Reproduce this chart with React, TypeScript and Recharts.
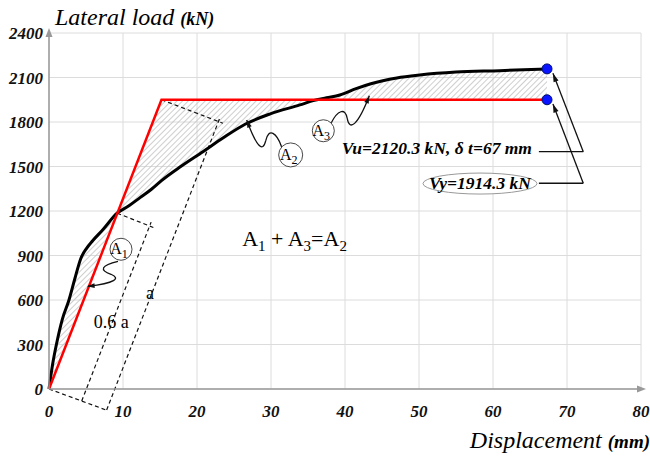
import React from "react"
import {
  ComposedChart,
  Line,
  Area,
  Scatter,
  XAxis,
  YAxis,
  CartesianGrid,
  ReferenceLine,
  ReferenceDot,
} from "recharts"

const SERIF = '"Liberation Serif", "Times New Roman", serif'

// axes
const xTicks = [0, 10, 20, 30, 40, 50, 60, 70, 80]
const yTicks = [0, 300, 600, 900, 1200, 1500, 1800, 2100, 2400]

// pushover (capacity) curve
const curveX = [0, 0.5, 1, 1.8, 2.7, 3.5, 4.3, 5.1, 5.9, 7.3, 9.2, 10.8, 12.3, 13.8, 15.2, 17.8, 20.8, 23.5, 26.5, 29.9, 33.9, 35.7, 37.5, 39.3, 41.5, 43.5, 47, 50.1, 55, 60.9, 67.3]
const curveY = [0, 170, 300, 470, 600, 745, 880, 950, 1000, 1075, 1185, 1235, 1290, 1345, 1405, 1500, 1600, 1692, 1785, 1855, 1915, 1944, 1963, 1982, 2025, 2058, 2097, 2117, 2137, 2146, 2158]

// idealised bilinear curve
const bilinearX = [0, 15.2, 67.3]
const bilinearY = [0, 1950, 1950]

// end points (Vu, Vy at target displacement)
const pointX = [67.3, 67.3]
const pointY = [2158, 1950]

const curveData = curveX.map((x, i) => ({ x, y: curveY[i] }))
const bilinearData = bilinearX.map((x, i) => ({ x, y: bilinearY[i] }))
const pointData = pointX.map((x, i) => ({ x, y: pointY[i] }))

function bilinearAt(x: number) {
  for (let i = 1; i < bilinearX.length; i++) {
    if (x <= bilinearX[i]) {
      const t = (x - bilinearX[i - 1]) / (bilinearX[i] - bilinearX[i - 1])
      return bilinearY[i - 1] + t * (bilinearY[i] - bilinearY[i - 1])
    }
  }
  return bilinearY[bilinearY.length - 1]
}

// hatched band between the two curves (A1, A2, A3)
const bandData = curveX.map((x, i) => ({ x, band: [bilinearAt(x), curveY[i]] }))

function head(x: number, y: number, fx: number, fy: number, size = 8) {
  const a = Math.atan2(y - fy, x - fx)
  const p1 = [x - size * Math.cos(a - 0.3), y - size * Math.sin(a - 0.3)]
  const p2 = [x - size * Math.cos(a + 0.3), y - size * Math.sin(a + 0.3)]
  return <path d={`M${x},${y} L${p1} L${p2} Z`} fill="#111" />
}

const ArrowLine = (p: any) => (
  <g>
    <line x1={p.x1} y1={p.y1} x2={p.x2} y2={p.y2} stroke="#111" strokeWidth={1.3} />
    {head(p.x2, p.y2, p.x1, p.y1, 9)}
  </g>
)

function circled(sub: string, r: number, d: string, tip: number[], from: number[]) {
  return (p: any) => (
    <g transform={`translate(${p.cx},${p.cy})`}>
      <path d={d} fill="none" stroke="#111" strokeWidth={1.3} />
      {head(tip[0], tip[1], from[0], from[1], 8)}
      <circle r={r} fill="#fff" stroke="#333" strokeWidth={0.9} />
      <text x={-2} y={5} textAnchor="middle" fontFamily={SERIF} fontSize={16} fill="#000">
        A<tspan fontSize={12} dy={4}>{sub}</tspan>
      </text>
    </g>
  )
}

function note(content: React.ReactNode, dx: number, dy: number, anchor = "start", size = 17, italic = true, bold = true) {
  return (p: any) => (
    <text
      x={p.cx + dx}
      y={p.cy + dy}
      textAnchor={anchor}
      fontFamily={SERIF}
      fontSize={size}
      fontStyle={italic ? "italic" : "normal"}
      fontWeight={bold ? 700 : 400}
      fill="#000"
    >
      {content}
    </text>
  )
}

const XTick = (p: any) => (
  <text x={p.x} y={p.y + 12} textAnchor="middle" fontFamily={SERIF} fontSize={17} fontStyle="italic" fontWeight={700} fill="#111">
    {p.payload.value}
  </text>
)

const YTick = (p: any) => (
  <text x={p.x} y={p.y + 6} textAnchor="end" fontFamily={SERIF} fontSize={17} fontStyle="italic" fontWeight={700} fill="#111">
    {p.payload.value}
  </text>
)

const dashed = { stroke: "#111", strokeWidth: 1.2, strokeDasharray: "4 3", ifOverflow: "visible" as const }

export default function App() {
  return (
    <div style={{ position: "absolute", left: 0, top: 0, width: 650, height: 460, background: "#fff" }}>
      <ComposedChart width={650} height={460} margin={{ top: 33, right: 9, bottom: 0, left: 0 }}>
        <defs>
          <pattern id="hatch" width="4" height="4" patternUnits="userSpaceOnUse" patternTransform="rotate(45)">
            <line x1="0" y1="0" x2="0" y2="4" stroke="#c2c2c2" strokeWidth="1.6" />
          </pattern>
        </defs>
        <CartesianGrid stroke="#dcdcdc" strokeWidth={1} />
        <XAxis
          type="number"
          dataKey="x"
          domain={[0, 80]}
          ticks={xTicks}
          height={71}
          tickLine={false}
          tickMargin={10}
          axisLine={{ stroke: "#999", strokeWidth: 1.5 }}
          tick={<XTick />}
        />
        <YAxis
          type="number"
          dataKey="y"
          domain={[0, 2400]}
          ticks={yTicks}
          width={49}
          tickLine={false}
          tickMargin={0}
          axisLine={{ stroke: "#999", strokeWidth: 1.5 }}
          tick={<YTick />}
        />

        <Area data={bandData} dataKey="band" type="linear" stroke="none" fill="url(#hatch)" fillOpacity={1} isAnimationActive={false} />

        {/* construction lines */}
        <ReferenceLine segment={[{ x: 0, y: 0 }, { x: 7.9, y: -145 }]} {...dashed} />
        <ReferenceLine segment={[{ x: 7.79, y: -141.6 }, { x: 23.1, y: 1829 }]} {...dashed} />
        <ReferenceLine segment={[{ x: 15.2, y: 1950 }, { x: 23.5, y: 1792 }]} {...dashed} />
        <ReferenceLine segment={[{ x: 4.42, y: -81 }, { x: 13.8, y: 1125 }]} {...dashed} />
        <ReferenceLine segment={[{ x: 9.23, y: 1185 }, { x: 14.1, y: 1089 }]} {...dashed} />

        <Line data={curveData} dataKey="y" type="monotone" stroke="#000" strokeWidth={3} dot={false} activeDot={false} isAnimationActive={false} />
        <Line data={bilinearData} dataKey="y" type="linear" stroke="#f00" strokeWidth={2.5} dot={false} activeDot={false} isAnimationActive={false} />

        {/* leaders to the end points */}
        <ReferenceLine segment={[{ x: 66.2, y: 1600 }, { x: 72.2, y: 1600 }]} stroke="#111" strokeWidth={1.3} ifOverflow="visible" />
        <ReferenceLine segment={[{ x: 72.2, y: 1600 }, { x: 68.1, y: 2128 }]} ifOverflow="visible" shape={ArrowLine} />
        <ReferenceLine segment={[{ x: 66.2, y: 1387 }, { x: 72.2, y: 1387 }]} stroke="#111" strokeWidth={1.3} ifOverflow="visible" />
        <ReferenceLine segment={[{ x: 72.2, y: 1387 }, { x: 68.1, y: 1922 }]} ifOverflow="visible" shape={ArrowLine} />

        <Scatter
          data={pointData}
          dataKey="y"
          isAnimationActive={false}
          shape={(p: any) => <circle cx={p.cx} cy={p.cy} r={5} fill="#0a14ff" stroke="#001070" strokeWidth={1} />}
        />

        {/* labels */}
        <ReferenceDot x={9.73} y={942} ifOverflow="visible" shape={circled("1", 11, "M-3,12 C-20,16 -22,21 -10,25 C0,29 -6,34 -33,37", [-34, 37], [-20, 36])} />
        <ReferenceDot x={32.66} y={1578} ifOverflow="visible" shape={circled("2", 12, "M-9,-8 C-14,-22 -22,-28 -25,-14 C-28,-2 -34,-8 -44,-35", [-44, -35], [-38, -20])} />
        <ReferenceDot x={37.07} y={1741} ifOverflow="visible" shape={circled("3", 11, "M8,-8 C14,-20 22,-24 24,-12 C26,0 34,-4 46,-35", [46, -35], [40, -20])} />

        <ReferenceDot x={8.4} y={452} ifOverflow="visible" shape={note("0.6 a", 0, 6, "middle", 18, false, false)} />
        <ReferenceDot x={13.65} y={647} ifOverflow="visible" shape={note("a", 0, 6, "middle", 18, false, false)} />
        <ReferenceDot
          x={26.1}
          y={990}
          ifOverflow="visible"
          shape={note(
            <>
              A<tspan fontSize={15} dy={5}>1</tspan>
              <tspan dy={-5}> + A</tspan>
              <tspan fontSize={15} dy={5}>3</tspan>
              <tspan dy={-5}>=A</tspan>
              <tspan fontSize={15} dy={5}>2</tspan>
            </>,
            0,
            4,
            "start",
            22,
            false,
            false
          )}
        />
        <ReferenceDot x={39.55} y={1600} ifOverflow="visible" shape={note("Vu=2120.3 kN, \u03b4 t=67 mm", 0, 2, "start", 17.5)} />
        <ReferenceDot
          x={58.24}
          y={1385}
          ifOverflow="visible"
          shape={(p: any) => (
            <g>
              <ellipse cx={p.cx} cy={p.cy} rx={57} ry={10.5} fill="#fff" stroke="#999" strokeWidth={1} />
              <text x={p.cx} y={p.cy + 5} textAnchor="middle" fontFamily={SERIF} fontSize={17.5} fontStyle="italic" fontWeight={700} fill="#000">
                Vy=1914.3 kN
              </text>
            </g>
          )}
        />

        {/* axis arrows and titles */}
        <ReferenceDot x={80} y={0} ifOverflow="visible" shape={(p: any) => <path d={`M${p.cx + 5},${p.cy} L${p.cx - 4},${p.cy - 3.5} L${p.cx - 4},${p.cy + 3.5} Z`} fill="#999" />} />
        <ReferenceDot x={0} y={2400} ifOverflow="visible" shape={(p: any) => <path d={`M${p.cx},${p.cy - 5} L${p.cx - 3.5},${p.cy + 4} L${p.cx + 3.5},${p.cy + 4} Z`} fill="#999" />} />
        <ReferenceDot
          x={0}
          y={2400}
          ifOverflow="visible"
          shape={note(
            <>
              Lateral load <tspan fontSize={18} fontWeight={700}>(kN)</tspan>
            </>,
            6,
            -8,
            "start",
            24,
            true,
            false
          )}
        />
        <ReferenceDot
          x={80}
          y={0}
          ifOverflow="visible"
          shape={note(
            <>
              Displacement <tspan fontSize={19} fontWeight={700}>(mm)</tspan>
            </>,
            9,
            59,
            "end",
            24,
            true,
            false
          )}
        />
      </ComposedChart>
    </div>
  )
}
